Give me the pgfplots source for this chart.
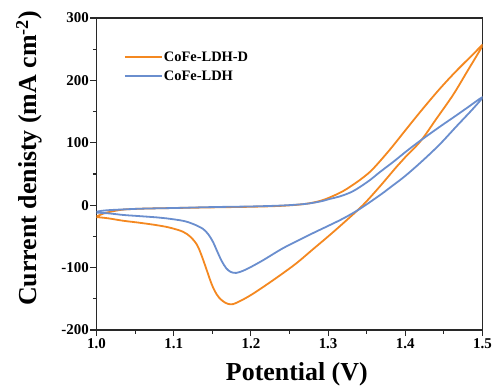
\documentclass[border=0pt]{standalone}
\usepackage{fontspec}
\setmainfont{Liberation Serif}
\usepackage{pgfplots}
\pgfplotsset{compat=1.18}
\definecolor{ldhd}{RGB}{244,136,32}
\definecolor{ldh}{RGB}{106,142,206}
\definecolor{axisgray}{RGB}{40,40,40}

% Forward and reverse sweeps, CoFe-LDH-D
\pgfplotstableread{
E j
1.000 -18
1.010 -13
1.020 -10
1.035 -7
1.060 -5.5
1.100 -4.5
1.150 -3.5
1.200 -2.5
1.240 -1
1.270 2
1.290 7
1.305 14
1.320 23
1.335 35
1.346 45
1.358 58
1.380 89
1.402 123
1.423 155
1.445 187
1.466 215
1.488 242
1.500 256
1.480 214
1.462 177
1.440 138
1.420 103
1.400 77
1.389 62
1.367 30
1.345 0
1.324 -24
1.302 -48
1.280 -71
1.259 -93
1.237 -113
1.216 -131
1.200 -144
1.187 -153
1.177 -158.5
1.170 -158
1.164 -154
1.158 -147
1.153 -137
1.149 -126
1.145 -112
1.140 -94
1.135 -77
1.130 -63
1.122 -51
1.112 -42.5
1.095 -36
1.078 -32
1.055 -28
1.035 -25
1.015 -21
1.000 -19
}\ldhd

% Forward and reverse sweeps, CoFe-LDH
\pgfplotstableread{
E j
1.000 -10.5
1.010 -8.5
1.030 -7
1.060 -5.5
1.100 -4.5
1.150 -3
1.200 -2
1.240 -0.5
1.270 2
1.290 6
1.302 10
1.315 14
1.330 21
1.341 29
1.355 41
1.367 53
1.385 70
1.402 87
1.419 103
1.445 126
1.465 143
1.480 156
1.500 173
1.488 155
1.466 126
1.445 98
1.423 72
1.400 47
1.380 28
1.367 16
1.341 -6
1.320 -21
1.302 -32
1.280 -45
1.259 -58
1.240 -70
1.216 -88
1.200 -99
1.190 -105
1.181 -108.5
1.174 -107
1.168 -101
1.162 -89
1.156 -73
1.151 -59
1.145 -47
1.138 -38
1.125 -30
1.112 -25
1.090 -21
1.078 -19.5
1.050 -17
1.035 -15.7
1.015 -13
1.000 -12
}\ldh

\begin{document}
\begin{tikzpicture}
\useasboundingbox (-96.5bp,-62bp) rectangle (398.5bp,330bp);
\begin{axis}[
  scale only axis,
  width=386bp, height=312bp,
  xmin=1.0, xmax=1.5, ymin=-200, ymax=300,
  xtick={1.0,1.1,1.2,1.3,1.4,1.5},
  ytick={-200,-100,0,100,200,300},
  minor x tick num=1, minor y tick num=1,
  tick pos=left, tick align=outside,
  major tick length=6bp, minor tick length=3.5bp,
  axis line style={line width=1.1bp, axisgray},
  every tick/.style={line width=1.1bp, axisgray},
  /pgf/number format/assume math mode=true,
  x tick label style={font=\fontsize{15}{15}\selectfont\bfseries, inner sep=2bp,
    /pgf/number format/.cd, fixed, fixed zerofill, precision=1},
  y tick label style={font=\fontsize{15}{15}\selectfont\bfseries, inner sep=1.5bp},
  xlabel={Potential (V)},
  ylabel={Current denisty (mA cm\textsuperscript{-2})},
  label style={font=\fontsize{26}{26}\selectfont\bfseries},
  xlabel style={at={(rel axis cs:0.519,0)}, anchor=base, yshift=-50bp},
  ylabel style={at={(rel axis cs:0,0.55)}, anchor=base, yshift=59.5bp},
  legend style={at={(rel axis cs:0.07,0.895)}, anchor=north west, draw=none, fill=none,
    font=\fontsize{14.5}{14.5}\selectfont\bfseries, row sep=6bp, inner sep=0pt,
    nodes={inner sep=1bp}},
  legend cell align=left,
  legend image code/.code={\draw[#1, line width=2.2bp] (0bp,0.5bp) -- (37bp,0.5bp);},
]
\addplot[ldhd, line width=1.8bp, smooth, tension=0.55] table[x=E, y=j] {\ldhd};
\addlegendentry{CoFe-LDH-D}
\addplot[ldh, line width=1.8bp, smooth, tension=0.55] table[x=E, y=j] {\ldh};
\addlegendentry{CoFe-LDH}
\end{axis}
\end{tikzpicture}
\end{document}
